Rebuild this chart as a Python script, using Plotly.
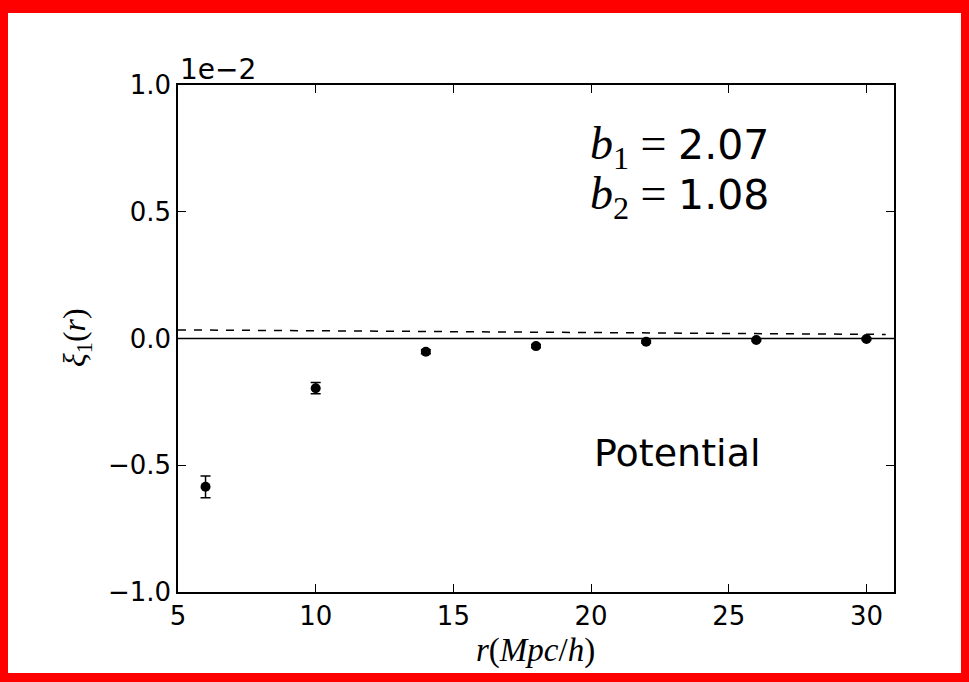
import plotly.graph_objects as go

# Data (values in units of 1e-2)
r_pts = [6, 10, 14, 18, 22, 26, 30]
xi_pts = [-0.585, -0.196, -0.052, -0.030, -0.013, -0.006, -0.002]
xi_err = [0.043, 0.022, 0.008, 0.006, 0.005, 0.004, 0.004]

r_model = [5, 10, 15, 20, 25, 30.7]
xi_model = [0.034, 0.030, 0.026, 0.022, 0.019, 0.016]

x_ticks = [5, 10, 15, 20, 25, 30]
y_ticks = [-1.0, -0.5, 0.0, 0.5, 1.0]
y_ticklabels = ["\u22121.0", "\u22120.5", "0.0", "0.5", "1.0"]

W, H = 969, 682
L, R, T, B = 178, 75, 85, 90
pw, ph = W - L - R, H - T - B

def px(xp):
    return (xp - L) / pw

def py(yp):
    return (H - B - yp) / ph

fig = go.Figure()

fig.add_trace(go.Scatter(x=[5, 31], y=[0, 0], mode="lines",
                         line=dict(color="black", width=1.5), hoverinfo="skip"))
fig.add_trace(go.Scatter(x=r_model, y=xi_model, mode="lines",
                         line=dict(color="black", width=1.5, dash="8px,8px"), hoverinfo="skip"))
fig.add_trace(go.Scatter(x=r_pts, y=xi_pts, mode="markers",
                         marker=dict(color="black", size=10),
                         error_y=dict(type="data", array=xi_err, color="black",
                                      thickness=1.5, width=5)))

axis_common = dict(showgrid=False, zeroline=False, showline=True, linecolor="black",
                   linewidth=1.5, mirror="ticks", ticks="inside", ticklen=8,
                   tickcolor="black", tickwidth=1,
                   tickfont=dict(family="DejaVu Sans", size=26, color="black"))

fig.update_layout(
    width=W, height=H,
    margin=dict(l=L, r=R, t=T, b=B),
    paper_bgcolor="white", plot_bgcolor="white",
    showlegend=False,
    xaxis=dict(range=[5, 31], tickvals=x_ticks, ticktext=[str(v) for v in x_ticks],
               **axis_common),
    yaxis=dict(range=[-1.0, 1.0], tickvals=y_ticks, ticktext=y_ticklabels,
               **axis_common),
)

serif = "Liberation Serif"
bpart = "<span style='font-family:Liberation Serif;font-size:46px'><i>b</i><sub>{}</sub> =&nbsp;</span>"
annotations = [
    dict(x=0.0, y=1.0, xref="paper", yref="paper", xanchor="left", yanchor="bottom",
         text="1e\u22122", showarrow=False, yshift=-3,
         font=dict(family="DejaVu Sans", size=28, color="black")),
    dict(x=px(535), y=py(650), xref="paper", yref="paper", xanchor="center", yanchor="middle",
         text="<i>r</i>(<i>Mpc</i>/<i>h</i>)", showarrow=False,
         font=dict(family=serif, size=33, color="black")),
    dict(x=px(76), y=py(338), xref="paper", yref="paper", xanchor="center", yanchor="middle",
         text="<i>\u03be</i><sub>1</sub>(<i>r</i>)", showarrow=False, textangle=-90,
         font=dict(family=serif, size=32, color="black")),
    dict(x=px(588), y=py(147), xref="paper", yref="paper", xanchor="left", yanchor="middle",
         text=bpart.format(1) + "2.07",
         showarrow=False, font=dict(family="DejaVu Sans", size=41, color="black")),
    dict(x=px(588), y=py(197), xref="paper", yref="paper", xanchor="left", yanchor="middle",
         text=bpart.format(2) + "1.08",
         showarrow=False, font=dict(family="DejaVu Sans", size=41, color="black")),
    dict(x=px(592), y=py(453), xref="paper", yref="paper", xanchor="left", yanchor="middle",
         text="Potential", showarrow=False,
         font=dict(family="DejaVu Sans", size=38, color="black")),
]
fig.update_layout(annotations=annotations)

# Red frame around the whole picture
frame = [
    (0, 0, W, 13),
    (0, H - 9, W, H),
    (0, 0, 8, H),
    (W - 8, 0, W, H),
]
shapes = []
for x0, y0, x1, y1 in frame:
    shapes.append(dict(type="rect", xref="paper", yref="paper",
                       x0=px(x0), x1=px(x1), y0=py(y1), y1=py(y0),
                       fillcolor="#ff0000", line=dict(width=0), layer="above"))
fig.update_layout(shapes=shapes)

fig.write_html("out.html")
